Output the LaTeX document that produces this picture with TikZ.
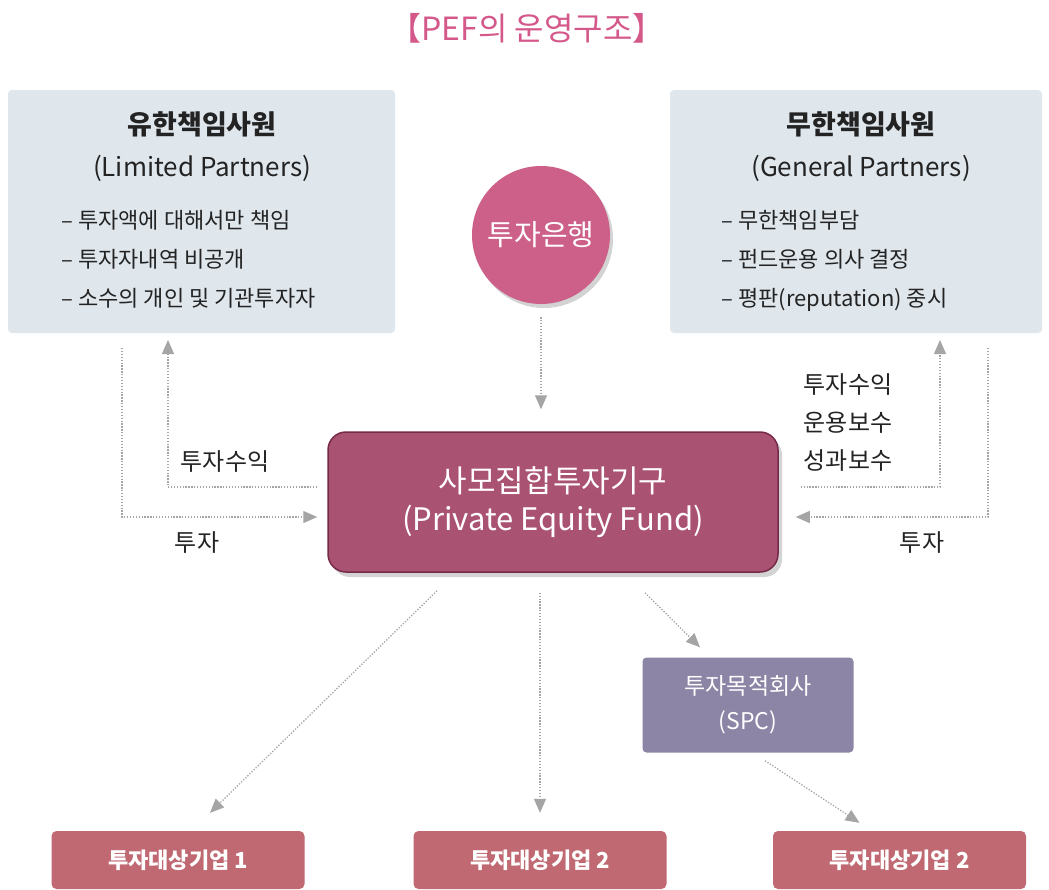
\documentclass[tikz,border=0pt]{standalone}
\usepackage{fontspec}
\setmainfont{Noto Sans CJK KR}
\usepackage{tikz}
\usetikzlibrary{positioning}
\usetikzlibrary{shadows}
\usetikzlibrary{arrows.meta}
\definecolor{PefPink}{RGB}{212,88,138}
\definecolor{PefPartner}{RGB}{223,231,237}
\definecolor{PefRose}{RGB}{204,96,136}
\definecolor{PefFund}{RGB}{170,82,113}
\definecolor{PefFundEdge}{RGB}{118,42,74}
\definecolor{PefSpc}{RGB}{140,133,165}
\definecolor{PefCompany}{RGB}{192,105,115}
\definecolor{PefArrow}{RGB}{165,165,165}
\definecolor{PefText}{RGB}{35,35,35}
\tikzstyle{pef_title_text} = [text = PefPink, font = \fontsize{32}{36}\selectfont]
\tikzstyle{pef_partner_box} = [rectangle, rounded corners = 4, fill = PefPartner, minimum height = 243]
\tikzstyle{pef_heading} = [text = PefText, align = center, font = \fontsize{26}{42}\selectfont]
\tikzstyle{pef_bullet_list} = [text = PefText, align = left, anchor = west, font = \fontsize{22}{39}\selectfont]
\tikzstyle{pef_bank} = [circle, minimum size = 138, fill = PefRose, text = white, font = \fontsize{29}{34}\selectfont, drop shadow = {opacity = 0.35, shadow xshift = 3pt, shadow yshift = -4pt}]
\tikzstyle{pef_fund} = [rectangle, rounded corners = 18, minimum width = 450, minimum height = 140, fill = PefFund, draw = PefFundEdge, line width = 1.5, text = white, align = center, font = \fontsize{31}{38}\selectfont, drop shadow = {opacity = 0.35, shadow xshift = 4pt, shadow yshift = -5pt}]
\tikzstyle{pef_spc} = [rectangle, rounded corners = 4, minimum width = 211, minimum height = 95, fill = PefSpc, text = white, align = center, font = \fontsize{23}{35}\selectfont]
\tikzstyle{pef_company} = [rectangle, rounded corners = 5, minimum width = 253, minimum height = 58, fill = PefCompany, text = white, font = \bfseries\fontsize{22}{26}\selectfont]
\tikzstyle{pef_label} = [text = PefText, align = left, font = \fontsize{24}{38}\selectfont]
\tikzstyle{pef_arrow} = [draw = PefArrow, line width = 1.3, dash pattern = on 1.3pt off 1.6pt, -{Triangle[length = 14pt, width = 12pt]}]

\begin{document}
\begin{tikzpicture}[x = 1pt, y = -1pt]
        \useasboundingbox (0,0) rectangle (1049,889);
        % title
        \node [style = {pef_title_text}] (title) at (527,28) {【PEF의 운영구조】};
        % partners
        \node [style = {pef_partner_box}, minimum width = 387] (lp) at (201.5,211.5) {};
        \node [style = {pef_partner_box}, minimum width = 372] (gp) at (856,211.5) {};
        \node [style = {pef_heading}] (lp_name) at (202,147) {{\bfseries\fontsize{27}{42}\selectfont 유한책임사원}\\(Limited Partners)};
        \node [style = {pef_heading}] (gp_name) at (861,147) {{\bfseries\fontsize{27}{42}\selectfont 무한책임사원}\\(General Partners)};
        \node [style = {pef_bullet_list}] (lp_notes) at (58,259) {– 투자액에 대해서만 책임\\– 투자자내역 비공개\\– 소수의 개인 및 기관투자자};
        \node [style = {pef_bullet_list}] (gp_notes) at (718,261) {– 무한책임부담\\– 펀드운용 의사 결정\\– 평판(reputation) 중시};
        % bank and fund
        \node [style = {pef_bank}] (bank) at (541,235) {투자은행};
        \node [style = {pef_fund}] (fund) at (553,502) {사모집합투자기구\\(Private Equity Fund)};
        \node [style = {pef_spc}] (spc) at (748,705) {투자목적회사\\(SPC)};
        % companies
        \node [style = {pef_company}] (comp_one) at (178,860) {투자대상기업 1};
        \node [style = {pef_company}] (comp_two) at (540,860) {투자대상기업 2};
        \node [style = {pef_company}] (comp_three) at (899.5,860) {투자대상기업 2};
        % flow labels
        \node [style = {pef_label}] (lp_return) at (225,462) {투자수익};
        \node [style = {pef_label}] (lp_invest) at (197,543) {투자};
        \node [style = {pef_label}] (gp_return) at (848,423) {투자수익\\운용보수\\성과보수};
        \node [style = {pef_label}] (gp_invest) at (922,543) {투자};
        \coordinate (lp_out) at (122,348);
        \coordinate (lp_in) at (168,340);
        \coordinate (gp_in) at (940,340);
        \coordinate (gp_out) at (988,348);
        % flows
        \draw [pef_arrow, shorten < = 13pt, shorten > = 22pt] (bank.south) -- (bank.south |- fund.north);
        \draw [pef_arrow, shorten > = 10pt] (lp_out) |- ([yshift = -15pt] fund.west);
        \draw [pef_arrow, shorten < = 10pt] ([yshift = 15pt] fund.west) -| (lp_in);
        \draw [pef_arrow, shorten < = 22pt] ([yshift = 15pt] fund.east) -| (gp_in);
        \draw [pef_arrow, shorten > = 17pt] (gp_out) |- ([yshift = -15pt] fund.east);
        \draw [pef_arrow] ([xshift = -116pt, yshift = -18pt] fund.south) -- ([xshift = 32pt, yshift = 18pt] comp_one.north);
        \draw [pef_arrow, shorten < = 20pt, shorten > = 18pt] (comp_two.north |- fund.south) -- (comp_two.north);
        \draw [pef_arrow] ([xshift = 92pt, yshift = -20pt] fund.south) -- ([xshift = -48pt, yshift = 10pt] spc.north);
        \draw [pef_arrow] ([xshift = 17pt, yshift = -8pt] spc.south) -- ([xshift = -40pt, yshift = 8pt] comp_three.north);
    \end{tikzpicture}
\end{document}
